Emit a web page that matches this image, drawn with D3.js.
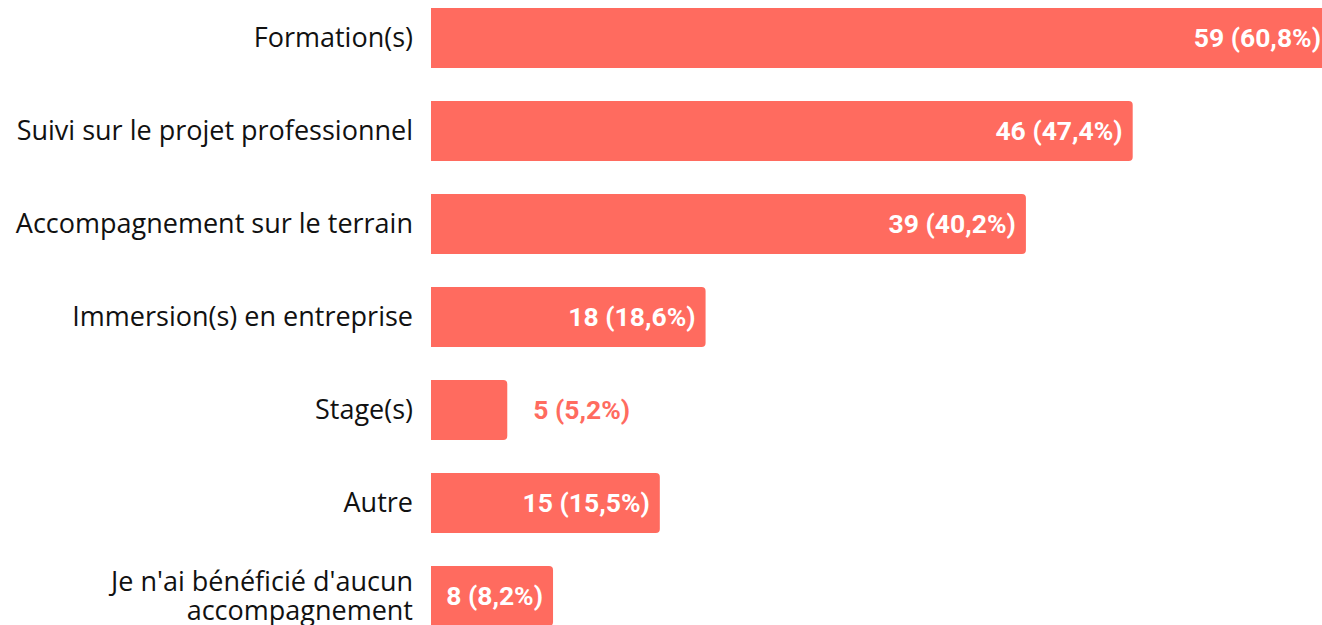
<!doctype html>
<html lang="fr">
<head>
<meta charset="utf-8">
<title>Accompagnement</title>
<script src="https://cdn.jsdelivr.net/npm/d3@7"></script>
<style>
  html, body { margin: 0; padding: 0; background: #fff; overflow: hidden; }
  svg { display: block; }
</style>
</head>
<body>
<div id="chart"></div>
<script>
// data
const categories = [
  "Formation(s)",
  "Suivi sur le projet professionnel",
  "Accompagnement sur le terrain",
  "Immersion(s) en entreprise",
  "Stage(s)",
  "Autre",
  "Je n'ai bénéficié d'aucun\naccompagnement"
];
const counts = [59, 46, 39, 18, 5, 15, 8];
const percents = ["60,8%", "47,4%", "40,2%", "18,6%", "5,2%", "15,5%", "8,2%"];

const width = 1322, height = 625;
const barColor = "#ff6b5f";

const svg = d3.select("#chart").append("svg")
    .attr("width", width)
    .attr("height", height)
    .attr("viewBox", [0, 0, width, height]);

// bars run past the right edge a little, like the screenshot
const x = d3.scaleLinear([0, 59], [431, 1331]);
const y = d3.scaleBand(d3.range(categories.length), [8, 626])
    .paddingInner(0.355)
    .paddingOuter(0);

const I = d3.range(categories.length);

function barPath(x0, y0, w, h, r) {
  r = Math.min(r, w / 2);
  return `M${x0},${y0}H${x0 + w - r}Q${x0 + w},${y0} ${x0 + w},${y0 + r}` +
         `V${y0 + h - r}Q${x0 + w},${y0 + h} ${x0 + w - r},${y0 + h}H${x0}Z`;
}

svg.append("g")
  .selectAll("path")
  .data(I)
  .join("path")
    .attr("fill", barColor)
    .attr("d", i => barPath(x(0), y(i), x(counts[i]) - x(0), y.bandwidth(), 4));

// category labels
const labels = svg.append("g")
    .attr("font-family", "'Open Sans', sans-serif")
    .attr("font-size", 27)
    .attr("fill", "#111")
    .attr("text-anchor", "end")
  .selectAll("text")
  .data(I)
  .join("text")
    .attr("x", 413)
    .attr("y", i => y(i) + y.bandwidth() / 2);

labels.each(function(i) {
  const lines = categories[i].split("\n");
  const t = d3.select(this);
  lines.forEach((line, k) => {
    t.append("tspan")
      .attr("x", 413)
      .attr("dy", k === 0 ? `${0.35 - (lines.length - 1) * 0.55}em` : "1.1em")
      .text(line);
  });
});

// value labels
const values = svg.append("g")
    .attr("font-family", "Roboto, sans-serif")
    .attr("font-weight", "bold")
    .attr("font-size", 26.5)
  .selectAll("text")
  .data(I)
  .join("text")
    .attr("y", i => y(i) + y.bandwidth() / 2)
    .attr("dy", "0.35em")
    .text(i => `${counts[i]} (${percents[i]})`);

values.each(function(i) {
  const t = d3.select(this);
  const tw = this.getComputedTextLength();
  const bw = x(counts[i]) - x(0);
  if (tw + 20 < bw) {
    t.attr("x", x(counts[i]) - 10).attr("text-anchor", "end").attr("fill", "#fff");
  } else {
    t.attr("x", x(counts[i]) + 26).attr("text-anchor", "start").attr("fill", barColor);
  }
});
</script>
</body>
</html>
